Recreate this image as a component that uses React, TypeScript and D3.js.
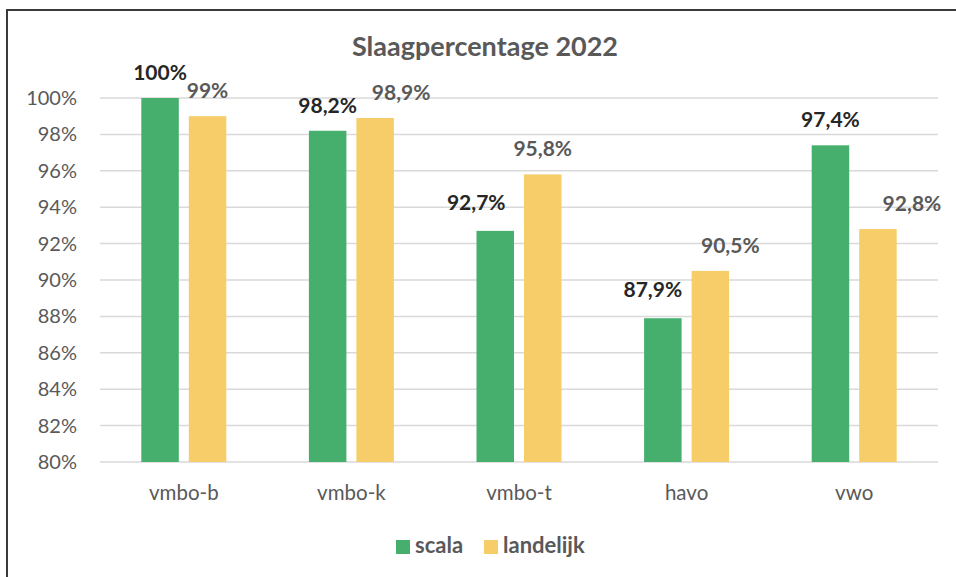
import React, { useRef, useEffect } from 'react';
import * as d3 from 'd3';

const categories = ['vmbo-b', 'vmbo-k', 'vmbo-t', 'havo', 'vwo'];
const seriesNames = ['scala', 'landelijk'];
const scalaValues = [100, 98.2, 92.7, 87.9, 97.4];
const landelijkValues = [99, 98.9, 95.8, 90.5, 92.8];
const yTicks = [80, 82, 84, 86, 88, 90, 92, 94, 96, 98, 100];

// label nudges (Excel moved some labels to avoid overlap)
const scalaLabelDx = [0, 0, -19, -10, 0];
const scalaLabelDy = [0, 0, -3, -3, 0];
const landelijkLabelDx = [0, 26, 0, 20, 34];

const colors = ['#47AF6D', '#F7CD69'];
const labelColors = ['#262626', '#595959'];
const font = 'Lato, "Open Sans", sans-serif';

const App = () => {
    const width = 956;
    const height = 577;
    const margin = { top: 98, right: 18, bottom: 115, left: 100 };

    const svgRef = useRef(null);

    useEffect(() => {
        if (!svgRef.current) {
            return;
        }
        const svg = d3.select(svgRef.current);
        svg.selectAll('*').remove();

        // chart border (continues past the right and bottom edges)
        svg.append('path')
            .attr('d', `M7,${height + 5} L7,10 L${width + 5},10`)
            .attr('fill', 'none')
            .attr('stroke', '#3a3a3a')
            .attr('stroke-width', 2);

        const x0 = d3.scaleBand()
            .domain(categories)
            .range([margin.left, width - margin.right])
            .paddingInner(0)
            .paddingOuter(0);

        const yScale = d3.scaleLinear()
            .domain([80, 100])
            .range([height - margin.bottom, margin.top]);

        const groupWidth = 85;
        const x1 = d3.scaleBand()
            .domain(seriesNames)
            .range([-groupWidth / 2, groupWidth / 2])
            .paddingInner(10 / 47.5)
            .paddingOuter(0);

        // gridlines
        svg.append('g')
            .selectAll('line')
            .data(yTicks)
            .join('line')
            .attr('x1', margin.left)
            .attr('x2', width - margin.right)
            .attr('y1', d => yScale(d))
            .attr('y2', d => yScale(d))
            .attr('stroke', '#D9D9D9')
            .attr('stroke-width', 1.5);

        // y tick labels
        svg.append('g')
            .selectAll('text')
            .data(yTicks)
            .join('text')
            .attr('x', 77)
            .attr('y', d => yScale(d))
            .attr('dy', '0.35em')
            .attr('text-anchor', 'end')
            .attr('font-family', font)
            .attr('font-size', 20)
            .attr('fill', '#595959')
            .text(d => `${d}%`);

        // category labels
        svg.append('g')
            .selectAll('text')
            .data(categories)
            .join('text')
            .attr('x', d => x0(d) + x0.bandwidth() / 2)
            .attr('y', 500)
            .attr('text-anchor', 'middle')
            .attr('font-family', font)
            .attr('font-size', 20.5)
            .attr('fill', '#595959')
            .text(d => d);

        const seriesData = [
            { name: 'scala', values: scalaValues, dx: scalaLabelDx, dy: scalaLabelDy },
            { name: 'landelijk', values: landelijkValues, dx: landelijkLabelDx, dy: [0, 0, 0, 0, 0] },
        ];

        seriesData.forEach((s, si) => {
            const g = svg.append('g');
            const rows = categories.map((c, i) => ({ c, v: s.values[i], i }));
            const barX = d => x0(d.c) + x0.bandwidth() / 2 + x1(s.name);

            g.selectAll('rect')
                .data(rows)
                .join('rect')
                .attr('x', barX)
                .attr('y', d => yScale(d.v))
                .attr('width', x1.bandwidth())
                .attr('height', d => yScale(80) - yScale(d.v))
                .attr('fill', colors[si]);

            g.selectAll('text')
                .data(rows)
                .join('text')
                .attr('x', d => barX(d) + x1.bandwidth() / 2 + s.dx[d.i])
                .attr('y', d => yScale(d.v) - 18 + s.dy[d.i])
                .attr('text-anchor', 'middle')
                .attr('font-family', font)
                .attr('font-weight', 700)
                .attr('font-size', 21)
                .attr('fill', labelColors[si])
                .text(d => `${String(d.v).replace('.', ',')}%`);
        });

        // title
        svg.append('text')
            .attr('x', 485)
            .attr('y', 56)
            .attr('text-anchor', 'middle')
            .attr('font-family', font)
            .attr('font-weight', 700)
            .attr('font-size', 27)
            .attr('fill', '#595959')
            .text('Slaagpercentage 2022');

        // legend
        const legend = svg.append('g');
        const legendX = [396, 484];
        seriesNames.forEach((name, i) => {
            legend.append('rect')
                .attr('x', legendX[i])
                .attr('y', 540)
                .attr('width', 14)
                .attr('height', 14)
                .attr('fill', colors[i]);
            legend.append('text')
                .attr('x', legendX[i] + 19)
                .attr('y', 553)
                .attr('font-family', font)
                .attr('font-weight', 700)
                .attr('font-size', 22)
                .attr('fill', '#595959')
                .text(name);
        });
    }, []);

    return (
        <div style={{ position: 'fixed', left: 0, top: 0, background: 'white' }}>
            <svg ref={svgRef} width={width} height={height} style={{ display: 'block' }}></svg>
        </div>
    );
};

export default App;
